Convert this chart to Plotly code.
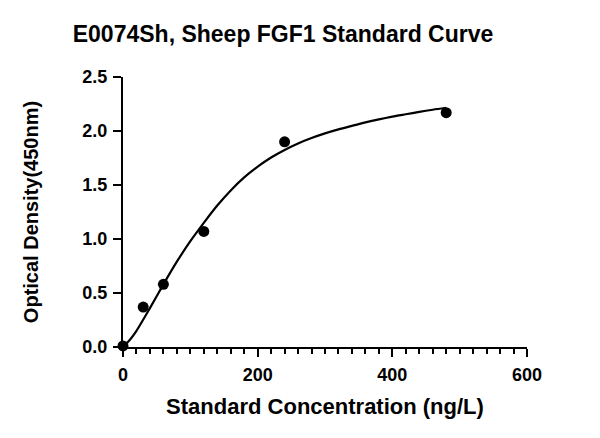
import plotly.graph_objects as go

# standards
conc = [0, 30, 60, 120, 240, 480]
od = [0.01, 0.37, 0.58, 1.07, 1.90, 2.17]

# fitted curve
curve_x = [0, 10, 20, 40, 60, 80, 100, 120, 140, 160, 180, 200, 220, 240, 260, 280, 300,
           320, 340, 360, 380, 400, 420, 440, 460, 480]
curve_y = [0.00, 0.065, 0.15, 0.36, 0.58, 0.79, 0.98, 1.15, 1.31, 1.45, 1.57, 1.67, 1.755,
           1.825, 1.885, 1.935, 1.978, 2.015, 2.048, 2.08, 2.108, 2.133, 2.155, 2.177, 2.197, 2.215]

x_ticks = [0, 200, 400, 600]
y_ticks = [0.0, 0.5, 1.0, 1.5, 2.0, 2.5]
y_labels = ["0.0", "0.5", "1.0", "1.5", "2.0", "2.5"]

font = "Liberation Sans, Arial, sans-serif"

fig = go.Figure()
fig.add_trace(go.Scatter(
    x=curve_x, y=curve_y, mode="lines",
    line=dict(color="black", width=2.2, shape="spline", smoothing=0.8),
    hoverinfo="skip", cliponaxis=False,
))
fig.add_trace(go.Scatter(
    x=conc, y=od, mode="markers",
    marker=dict(color="black", size=11),
    cliponaxis=False,
))

# page has an 8px body margin, so the figure is 592x430
fig.update_layout(
    width=592, height=430,
    plot_bgcolor="white", paper_bgcolor="white",
    showlegend=False,
    margin=dict(l=115, r=73, t=69, b=91),
    title=dict(
        text="E0074Sh, Sheep FGF1 Standard Curve",
        x=275 / 592, xanchor="center", y=1 - 26 / 430, yanchor="middle",
        font=dict(family=font, size=23, color="black", weight="bold"),
    ),
)

fig.update_xaxes(
    range=[0, 600], tickvals=x_ticks, showgrid=False, zeroline=False,
    showline=True, linecolor="black", linewidth=2,
    ticks="outside", ticklen=8, tickwidth=2, tickcolor="black", ticklabelstandoff=2,
    minor=dict(dtick=20, ticks="outside", ticklen=5, tickwidth=2, tickcolor="black", showgrid=False),
    tickfont=dict(family=font, size=18, color="black", weight="bold"),
    title=dict(text="Standard Concentration (ng/L)", standoff=15,
               font=dict(family=font, size=22, color="black", weight="bold")),
)
fig.update_yaxes(
    range=[0, 2.5], tickvals=y_ticks, ticktext=y_labels, showgrid=False, zeroline=False,
    showline=True, linecolor="black", linewidth=2,
    ticks="outside", ticklen=8, tickwidth=2, tickcolor="black", ticklabelstandoff=2,
    tickfont=dict(family=font, size=18, color="black", weight="bold"),
    title=dict(text="Optical Density(450nm)", standoff=38,
               font=dict(family=font, size=20, color="black", weight="bold")),
)

fig.write_html("out.html")
